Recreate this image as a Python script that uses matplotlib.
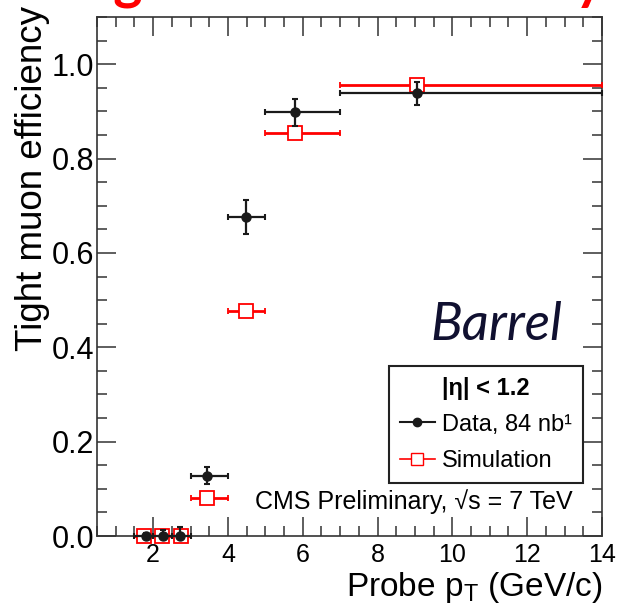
#!/usr/bin/env python3
"""
Tight muon efficiency vs probe pT, barrel region: data vs simulation.
"""
import matplotlib
matplotlib.use("Agg")
import matplotlib.pyplot as plt
from matplotlib.lines import Line2D
from matplotlib.ticker import MultipleLocator
import numpy as np

# pT bins (GeV/c)
bin_lo = [1.5, 2.0, 2.5, 3.0, 4.0, 5.0, 7.0]
bin_hi = [2.0, 2.5, 3.0, 4.0, 5.0, 7.0, 14.0]

# Data, 84 nb^-1
data_x = [1.8, 2.27, 2.72, 3.45, 4.48, 5.8, 9.05]
data_eff = [0.0, 0.0, 0.0, 0.128, 0.676, 0.898, 0.938]
data_err_lo = [0.0, 0.0, 0.0, 0.018, 0.036, 0.028, 0.024]
data_err_hi = [0.006, 0.012, 0.02, 0.018, 0.036, 0.028, 0.024]

# Simulation
sim_x = [1.75, 2.25, 2.75, 3.45, 4.48, 5.8, 9.05]
sim_eff = [0.0, 0.0, 0.0, 0.08, 0.477, 0.854, 0.955]

x_ticks = [2, 4, 6, 8, 10, 12, 14]
y_ticks = [0.0, 0.2, 0.4, 0.6, 0.8, 1.0]

W, H = 621, 610
plt.rcParams["font.family"] = ["Liberation Sans", "DejaVu Sans"]

fig = plt.figure(figsize=(W / 100, H / 100), dpi=100)
ax = fig.add_axes([97 / W, 1 - 536 / H, (602 - 97) / W, (536 - 17) / H])


def x_errors(xs):
    xs = np.array(xs)
    return [xs - np.array(bin_lo), np.array(bin_hi) - xs]


def no_clip(container):
    for child in container.get_children():
        child.set_clip_on(False)


# simulation first so the data points sit on top
sim = ax.errorbar(sim_x, sim_eff, xerr=x_errors(sim_x), fmt="s", color="red",
                  ms=10, mfc="white", mec="red", mew=1.3, elinewidth=2.0,
                  capsize=2, capthick=1.5, zorder=3)
no_clip(sim)

dat = ax.errorbar(data_x, data_eff, xerr=x_errors(data_x),
                  yerr=[data_err_lo, data_err_hi], fmt="o", color="#1a1a1a",
                  ms=6.5, elinewidth=1.6, capsize=2, capthick=1.5, zorder=4)
no_clip(dat)

ax.set_xlim(0.5, 14)
ax.set_ylim(0, 1.1)
ax.set_xticks(x_ticks)
ax.set_yticks(y_ticks)
ax.set_yticklabels([f"{v:.1f}" for v in y_ticks])
ax.xaxis.set_minor_locator(MultipleLocator(0.5))
ax.yaxis.set_minor_locator(MultipleLocator(0.05))

for side in ax.spines.values():
    side.set_linewidth(1.2)
    side.set_color("#333333")
ax.tick_params(which="both", direction="in", top=True, right=True,
               color="#333333", width=1.1)
ax.tick_params(which="major", length=14)
ax.tick_params(which="minor", length=7)
ax.tick_params(axis="x", which="major", labelsize=18, pad=5)
ax.tick_params(axis="y", which="major", labelsize=22, pad=2)

fig.text(603 / W, 1 - 596 / H, r"Probe p$_\mathregular{T}$ (GeV/c)",
         fontsize=24, ha="right", va="baseline")
fig.text(33 / W, 1 - 6 / H, "Tight muon efficiency", fontsize=26.5,
         rotation=90, ha="center", va="top")

# cropped red heading at the very top (only its descenders show)
fig.text(66 / W, 1 + 1 / H, "Tight muon efficiency", fontsize=40,
         family=["Lato", "DejaVu Sans"], weight="bold", color="red",
         ha="left", va="baseline")

fig.text(430 / W, 1 - 340 / H, "Barrel", fontsize=38,
         family=["Lato", "DejaVu Sans"], style="italic", color="#101030",
         ha="left", va="baseline")

handles = [
    Line2D([], [], color="#1a1a1a", marker="o", ms=6, lw=1.5),
    Line2D([], [], color="red", marker="s", ms=9, mfc="white", mec="red", lw=1.2),
]
leg = ax.legend(handles, ["Data, 84 nb¹", "Simulation"],
                title="|η| < 1.2",
                title_fontproperties={"weight": "bold", "size": 17},
                loc="upper left", bbox_to_anchor=(389 / W, 1 - 366 / H),
                bbox_transform=fig.transFigure, fontsize=17, frameon=True,
                fancybox=False, edgecolor="#222222", framealpha=1,
                handlelength=1.5, handletextpad=0.3, borderpad=0.45,
                labelspacing=0.62, borderaxespad=0)
leg.get_frame().set_linewidth(1.5)
leg._legend_box.sep = 10

fig.text(573 / W, 1 - 502 / H, "CMS Preliminary, √s = 7 TeV", fontsize=18,
         ha="right", va="center")

fig.savefig("out.png", dpi=100)
plt.close(fig)
